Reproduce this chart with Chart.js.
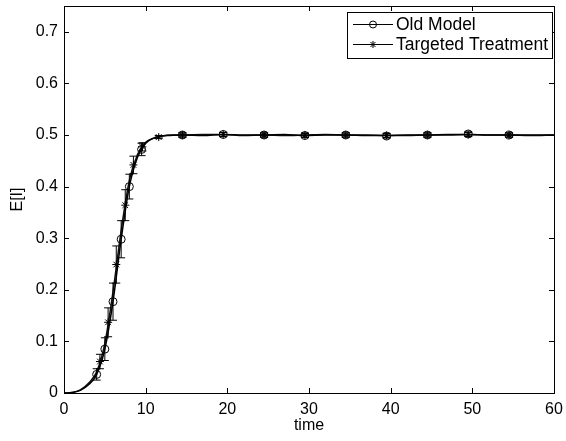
<!DOCTYPE html>
<html>
<head>
<meta charset="utf-8">
<script src="https://cdn.jsdelivr.net/npm/chart.js@4.4.0/dist/chart.umd.min.js"></script>
<style>
  html, body { margin: 0; padding: 0; background: #fff; }
  #wrap { width: 566px; height: 441px; }
</style>
</head>
<body>
<div id="wrap"><canvas id="chart" width="566" height="441"></canvas></div>
<script>
// Tick labels
const xTicks = [0, 10, 20, 30, 40, 50, 60];
const yTicks = [0, 0.1, 0.2, 0.3, 0.4, 0.5, 0.6, 0.7];

// Smooth curves
const curveTime = [0, 1, 2, 3, 4, 5, 6, 7, 8, 9, 10, 11, 12, 13, 14.5, 17, 19.5, 22, 24.5, 27, 29.5, 32, 34.5, 37, 39.5, 42, 44.5, 47, 49.5, 52, 54.5, 57, 60];
const oldCurve = [0, 0.001, 0.005, 0.016, 0.036, 0.085, 0.177, 0.298, 0.400, 0.457, 0.484, 0.494, 0.498, 0.499, 0.500, 0.499, 0.501, 0.500, 0.500, 0.501, 0.499, 0.500, 0.500, 0.499, 0.499, 0.500, 0.500, 0.501, 0.501, 0.500, 0.500, 0.500, 0.500];
const targetedCurve = [0, 0.001, 0.006, 0.019, 0.041, 0.096, 0.196, 0.315, 0.412, 0.462, 0.486, 0.494, 0.498, 0.500, 0.500, 0.501, 0.501, 0.499, 0.500, 0.499, 0.500, 0.501, 0.500, 0.500, 0.499, 0.499, 0.500, 0.500, 0.501, 0.500, 0.500, 0.499, 0.500];

// Marker points with error bars
const oldTime = [4, 5, 6, 7, 8, 9.5, 14.5, 19.5, 24.5, 29.5, 34.5, 39.5, 44.5, 49.5, 54.5];
const oldMean = [0.036, 0.085, 0.177, 0.298, 0.400, 0.472, 0.500, 0.501, 0.500, 0.499, 0.500, 0.498, 0.500, 0.502, 0.500];
const oldErr = [0.011, 0.022, 0.036, 0.036, 0.024, 0.012, 0.004, 0.004, 0.004, 0.004, 0.004, 0.004, 0.004, 0.004, 0.004];

const targetedTime = [4.4, 5.4, 6.4, 7.5, 8.5, 9.6, 11.6, 14.5, 19.5, 24.5, 29.5, 34.5, 39.5, 44.5, 49.5, 54.5];
const targetedMean = [0.061, 0.137, 0.249, 0.364, 0.442, 0.477, 0.496, 0.500, 0.501, 0.500, 0.500, 0.500, 0.499, 0.500, 0.501, 0.500];
const targetedErr = [0.014, 0.028, 0.036, 0.030, 0.017, 0.008, 0.003, 0.004, 0.004, 0.004, 0.004, 0.004, 0.004, 0.004, 0.004, 0.004];

const FONT = '"Liberation Sans", Arial, Helvetica, sans-serif';

function toPoints(xs, ys) {
  return xs.map((v, i) => ({ x: v, y: ys[i] }));
}

// Box around the plot with inward ticks on all four sides
const framePlugin = {
  id: 'frame',
  afterDraw(chart) {
    const { ctx, chartArea: a, scales: { x, y } } = chart;
    ctx.save();
    ctx.strokeStyle = '#000';
    ctx.lineWidth = 1;
    const tl = 5;
    ctx.beginPath();
    xTicks.forEach(v => {
      const px = Math.round(x.getPixelForValue(v)) + 0.5;
      ctx.moveTo(px, a.bottom); ctx.lineTo(px, a.bottom - tl);
      ctx.moveTo(px, a.top); ctx.lineTo(px, a.top + tl);
    });
    yTicks.forEach(v => {
      const py = Math.round(y.getPixelForValue(v)) + 0.5;
      ctx.moveTo(a.left, py); ctx.lineTo(a.left + tl, py);
      ctx.moveTo(a.right, py); ctx.lineTo(a.right - tl, py);
    });
    ctx.stroke();
    ctx.strokeRect(Math.round(a.left) + 0.5, Math.round(a.top) + 0.5,
      Math.round(a.right - a.left), Math.round(a.bottom - a.top));
    ctx.restore();
  }
};

// Vertical error bars with caps
const errorBarPlugin = {
  id: 'errorBars',
  afterDatasetsDraw(chart) {
    const { ctx, scales: { x, y } } = chart;
    const cap = 4;
    ctx.save();
    ctx.strokeStyle = '#000';
    ctx.lineWidth = 1;
    [[oldTime, oldMean, oldErr], [targetedTime, targetedMean, targetedErr]].forEach(([t, m, e]) => {
      t.forEach((tv, i) => {
        const px = x.getPixelForValue(tv);
        const top = y.getPixelForValue(m[i] + e[i]);
        const bot = y.getPixelForValue(m[i] - e[i]);
        ctx.beginPath();
        ctx.moveTo(px, top); ctx.lineTo(px, bot);
        ctx.moveTo(px - cap, top); ctx.lineTo(px + cap, top);
        ctx.moveTo(px - cap, bot); ctx.lineTo(px + cap, bot);
        ctx.stroke();
      });
    });
    ctx.restore();
  }
};

// MATLAB-style legend: line sample with marker, boxed
const legendPlugin = {
  id: 'boxLegend',
  afterDraw(chart) {
    const { ctx, chartArea: a } = chart;
    const entries = chart.data.datasets.filter(d => d.legendEntry);
    const right = Math.round(a.right) - 1.5;
    const left = 347.5, top = 12.5, rowH = 20;
    const bottom = top + 46;
    ctx.save();
    ctx.fillStyle = '#fff';
    ctx.fillRect(left, top, right - left, bottom - top);
    ctx.strokeStyle = '#000';
    ctx.lineWidth = 1;
    ctx.strokeRect(left, top, right - left, bottom - top);
    ctx.font = '17.5px ' + FONT;
    ctx.textBaseline = 'middle';
    entries.forEach((d, i) => {
      const cy = top + 12 + i * rowH;
      ctx.beginPath();
      ctx.moveTo(353, cy); ctx.lineTo(393, cy);
      ctx.stroke();
      ctx.fillStyle = 'rgba(0,0,0,0)';
      Chart.helpers.drawPoint(ctx, {
        pointStyle: d.pointStyle, radius: d.pointRadius - 0.5, borderWidth: 1
      }, 373, cy);
      ctx.fillStyle = '#000';
      ctx.fillText(d.label, 396, cy + 1);
    });
    ctx.restore();
  }
};

new Chart(document.getElementById('chart'), {
  type: 'line',
  data: {
    datasets: [{
      label: 'Old Model curve',
      data: toPoints(curveTime, oldCurve),
      borderColor: '#000',
      borderWidth: 1.5,
      pointRadius: 0,
      cubicInterpolationMode: 'monotone'
    }, {
      label: 'Targeted Treatment curve',
      data: toPoints(curveTime, targetedCurve),
      borderColor: '#111',
      borderWidth: 1.5,
      pointRadius: 0,
      cubicInterpolationMode: 'monotone'
    }, {
      label: 'Old Model',
      legendEntry: true,
      data: toPoints(oldTime, oldMean),
      showLine: false,
      pointStyle: 'circle',
      pointRadius: 4,
      pointBorderWidth: 1,
      pointBorderColor: '#000',
      pointBackgroundColor: 'rgba(0,0,0,0)'
    }, {
      label: 'Targeted Treatment',
      legendEntry: true,
      data: toPoints(targetedTime, targetedMean),
      showLine: false,
      pointStyle: 'star',
      pointRadius: 4,
      pointBorderWidth: 1,
      pointBorderColor: '#000',
      pointBackgroundColor: 'rgba(0,0,0,0)'
    }]
  },
  options: {
    responsive: false,
    animation: false,
    events: [],
    layout: { padding: { left: 0, top: 6, right: 12, bottom: 0 } },
    plugins: {
      legend: { display: false },
      tooltip: { enabled: false }
    },
    scales: {
      x: {
        type: 'linear',
        min: 0,
        max: 60,
        grid: { display: false, drawTicks: false },
        border: { display: false },
        afterBuildTicks: s => { s.ticks = xTicks.map(v => ({ value: v })); },
        afterFit: s => { s.height = 48; s.paddingLeft = 0; s.paddingRight = 0; },
        ticks: {
          color: '#000',
          padding: 7,
          maxRotation: 0,
          font: { family: FONT, size: 16 },
          callback: v => String(v)
        },
        title: {
          display: true,
          text: 'time',
          color: '#000',
          font: { family: FONT, size: 16 },
          padding: { top: 0, bottom: 6 }
        }
      },
      y: {
        type: 'linear',
        min: 0,
        max: 0.75,
        grid: { display: false, drawTicks: false },
        border: { display: false },
        afterBuildTicks: s => { s.ticks = yTicks.map(v => ({ value: v })); },
        afterFit: s => { s.width = 64; s.paddingTop = 0; s.paddingBottom = 0; },
        ticks: {
          color: '#000',
          padding: 6,
          font: { family: FONT, size: 16 },
          callback: v => String(Math.round(v * 10) / 10)
        },
        title: {
          display: true,
          text: 'E[I]',
          color: '#000',
          font: { family: FONT, size: 16 },
          padding: { top: 8, bottom: 0 }
        }
      }
    }
  },
  plugins: [errorBarPlugin, framePlugin, legendPlugin]
});
</script>
</body>
</html>
